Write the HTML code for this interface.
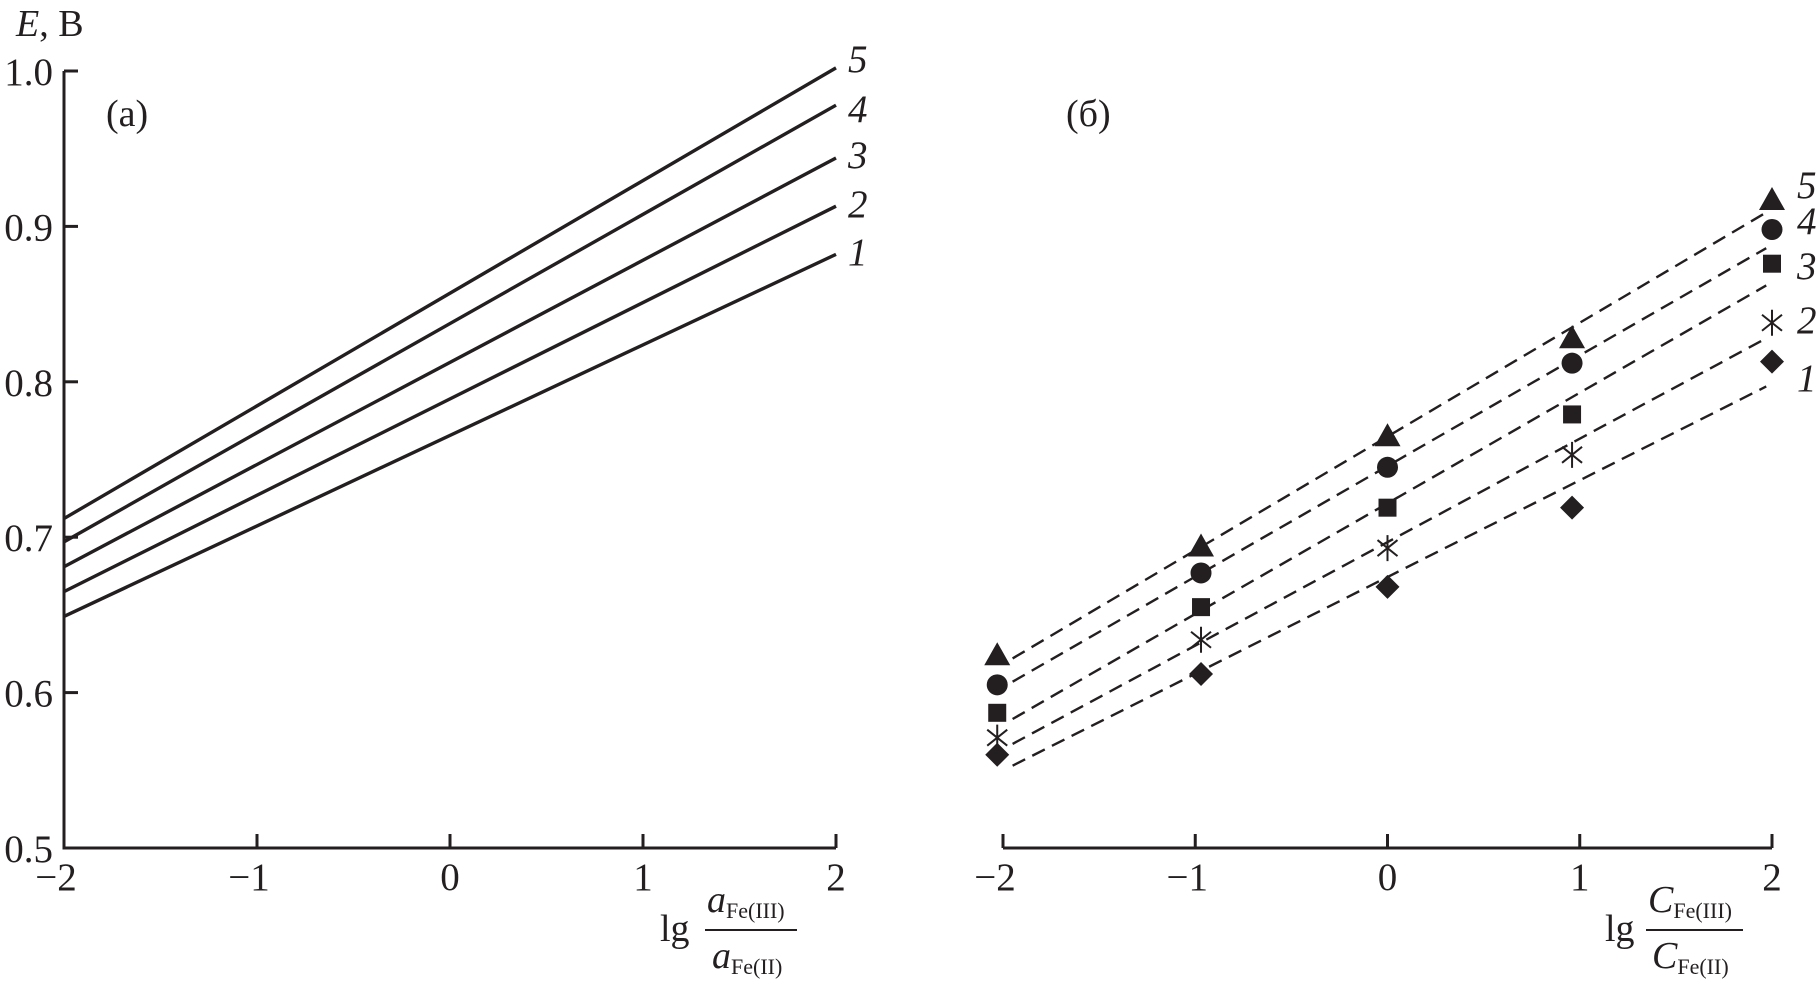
<!DOCTYPE html>
<html><head><meta charset="utf-8"><style>
html,body{margin:0;padding:0;background:#fff}
svg{display:block}
svg text{font-family:"Liberation Serif","DejaVu Serif",serif !important;fill:#231f20}
</style></head><body>
<svg id="chart" width="1819" height="988" viewBox="0 0 1819 988" font-family="Liberation Serif, DejaVu Serif, serif" style="position:absolute;left:0;top:0">
<g id="panelA"></g>
<g id="panelB"></g>
<text x="16" y="36" font-size="38"><tspan font-style="italic">E</tspan>, В</text>
<text x="106" y="126" font-size="38">(a)</text>
<text x="1066" y="126" font-size="38">(б)</text>
<g>
<text x="660" y="941" font-size="38">lg</text>
<text x="707" y="912" font-size="38" font-style="italic">a<tspan font-size="22" font-style="normal" dy="6">Fe(III)</tspan></text>
<line x1="705" x2="797" y1="930" y2="930" stroke="#231f20" stroke-width="2"/>
<text x="712" y="968" font-size="38" font-style="italic">a<tspan font-size="22" font-style="normal" dy="6">Fe(II)</tspan></text>
</g>
<g>
<text x="1605" y="941" font-size="38">lg</text>
<text x="1648" y="912" font-size="38" font-style="italic">C<tspan font-size="22" font-style="normal" dy="6">Fe(III)</tspan></text>
<line x1="1646" x2="1743" y1="930" y2="930" stroke="#231f20" stroke-width="2"/>
<text x="1652" y="968" font-size="38" font-style="italic">C<tspan font-size="22" font-style="normal" dy="6">Fe(II)</tspan></text>
</g>
</svg>
<script>
const xTicks = [-2, -1, 0, 1, 2];
const xTickLabels = ["\u22122", "\u22121", "0", "1", "2"];
const yTicks = [0.5, 0.6, 0.7, 0.8, 0.9, 1.0];
const yTickLabels = ["0.5", "0.6", "0.7", "0.8", "0.9", "1.0"];
const seriesNames = ["1", "2", "3", "4", "5"];
// panel (a): calculated lines, E at lg = -2 and lg = 2
const lineXs = [-2, 2];
const lineStartE = [0.649, 0.665, 0.681, 0.697, 0.712];
const lineEndE = [0.882, 0.913, 0.944, 0.978, 1.002];
// panel (б): experimental points
const pointXs = [-2.03, -0.97, 0.0, 0.96, 2.0];
const pts1 = [0.560, 0.612, 0.668, 0.719, 0.813];
const pts2 = [0.571, 0.634, 0.693, 0.753, 0.838];
const pts3 = [0.587, 0.655, 0.719, 0.779, 0.876];
const pts4 = [0.605, 0.677, 0.745, 0.812, 0.898];
const pts5 = [0.624, 0.694, 0.765, 0.828, 0.917];
const fitXs = [-1.95, 1.97];
const fitStartE = [0.553, 0.567, 0.583, 0.607, 0.622];
const fitEndE = [0.797, 0.828, 0.862, 0.886, 0.909];

const NS = "http://www.w3.org/2000/svg";
function el(tag, attrs, parent, txt) {
  const e = document.createElementNS(NS, tag);
  for (const k in attrs) e.setAttribute(k, attrs[k]);
  if (txt !== undefined) e.textContent = txt;
  parent.appendChild(e);
  return e;
}
const yScale = v => 848 - (v - 0.5) * 1554;
const xA = v => 64 + (v + 2) * 193;
const xB = v => 1003 + (v + 2) * 192.25;
const INK = "#231f20";

const A = document.getElementById('panelA');
const B = document.getElementById('panelB');

let ax = el('path', {d: `M${xA(-2)} ${yScale(1.0)} L${xA(-2)} ${yScale(0.5)} L${xA(2)} ${yScale(0.5)}`, fill: 'none', stroke: INK, 'stroke-width': 3}, A);


yTicks.forEach((t, i) => {
  const y = yScale(t);
  const tk = el('line', {x1: xA(-2), x2: xA(-2) + 14, y1: y, y2: y, stroke: INK, 'stroke-width': 3}, A);
  
  
  const lb = el('text', {x: 53, y: y + 14, 'font-size': 39, 'text-anchor': 'end'}, A, yTickLabels[i]);
  
  
});
xTicks.forEach((t, i) => {
  const x = xA(t);
  const tk = el('line', {x1: x, x2: x, y1: 848, y2: 834, stroke: INK, 'stroke-width': 3}, A);
  
  
  const lb = el('text', {x: x - (i < 2 ? 8 : 0), y: 890, 'font-size': 39, 'text-anchor': 'middle'}, A, xTickLabels[i]);
  
  
});
const labelYA = [251, 203, 154, 108, 58];
seriesNames.forEach((n, i) => {
  const ln = el('line', {x1: xA(lineXs[0]), y1: yScale(lineStartE[i]), x2: xA(lineXs[1]), y2: yScale(lineEndE[i]), stroke: INK, 'stroke-width': 3.4}, A);
  
  
  const lb = el('text', {x: 848, y: labelYA[i] + 14, 'font-size': 39, 'font-style': 'italic'}, A, n);
  
  
});

let bx = el('line', {x1: xB(-2), x2: xB(2), y1: 848, y2: 848, stroke: INK, 'stroke-width': 3}, B);


xTicks.forEach((t, i) => {
  const x = xB(t);
  const tk = el('line', {x1: x, x2: x, y1: 848, y2: 834, stroke: INK, 'stroke-width': 3}, B);
  
  
  const lb = el('text', {x: x - (i < 2 ? 8 : 0), y: 890, 'font-size': 39, 'text-anchor': 'middle'}, B, xTickLabels[i]);
  
  
});
seriesNames.forEach((n, i) => {
  const ln = el('line', {x1: xB(fitXs[0]), y1: yScale(fitStartE[i]), x2: xB(fitXs[1]), y2: yScale(fitEndE[i]), stroke: INK, 'stroke-width': 2.4, 'stroke-dasharray': '14 8'}, B);
  
  
});
const allPts = [pts1, pts2, pts3, pts4, pts5];
function marker(kind, cx, cy) {
  let m;
  if (kind === 4) m = el('path', {d: `M${cx} ${cy-13} L${cx+13} ${cy+10} L${cx-13} ${cy+10}Z`, fill: INK}, B);
  else if (kind === 3) m = el('circle', {cx: cx, cy: cy, r: 10.5, fill: INK}, B);
  else if (kind === 2) m = el('rect', {x: cx - 9, y: cy - 9, width: 18, height: 18, fill: INK}, B);
  else if (kind === 1) m = el('path', {d: `M${cx} ${cy-13} L${cx} ${cy+13} M${cx-10} ${cy-8} L${cx+10} ${cy+8} M${cx+10} ${cy-8} L${cx-10} ${cy+8}`, stroke: INK, 'stroke-width': 2, fill: 'none'}, B);
  else m = el('path', {d: `M${cx} ${cy-12} L${cx+12} ${cy} L${cx} ${cy+12} L${cx-12} ${cy}Z`, fill: INK}, B);
  return m;
}
allPts.forEach((arr, s) => {
  arr.forEach((v, j) => {
    const m = marker(s, xB(pointXs[j]), yScale(v));
    
    
  });
});
const labelYB = [377, 319, 265, 220, 184];
seriesNames.forEach((n, i) => {
  const lb = el('text', {x: 1797, y: labelYB[i] + 14, 'font-size': 39, 'font-style': 'italic'}, B, n);
  
  
});
</script>
</body></html>
